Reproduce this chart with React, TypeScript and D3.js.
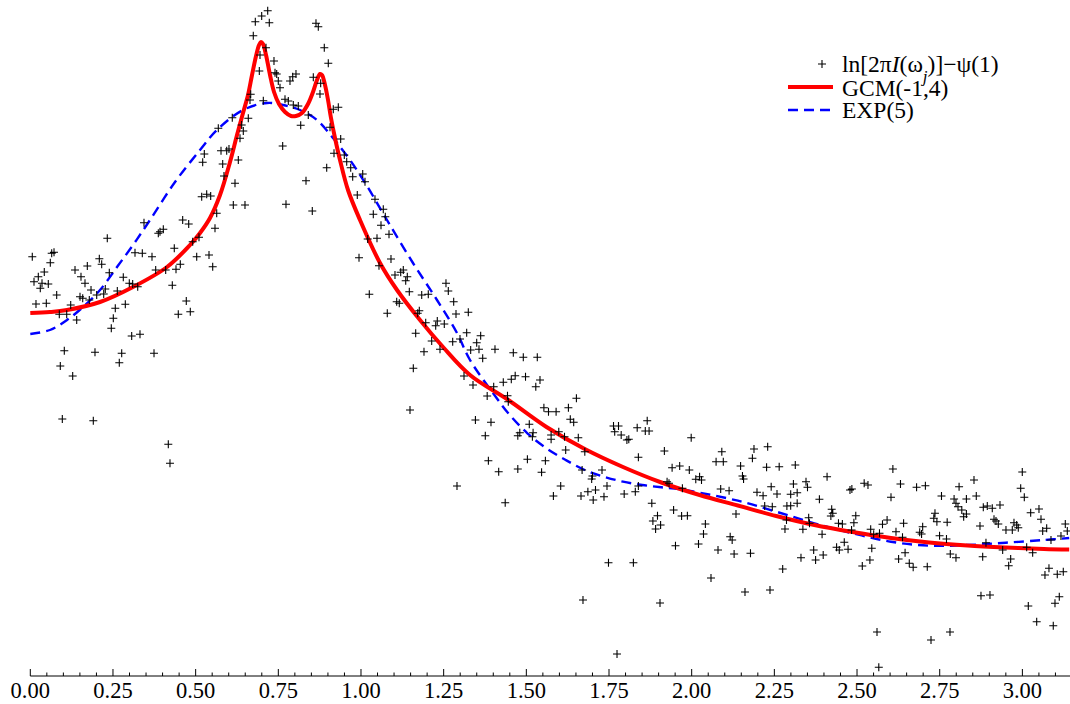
import React from "react";
import * as d3 from "d3";

// Fourier frequencies (omega_j) and log-periodogram values ln[2πI(ω_j)]−ψ(1)
const pointFreq: number[] = [
  0.006,0.0647,0.0717,0.0605,0.0423,0.0242,0.0112,0.0354,0.0544,0.0302,0.0798,0.0172,0.0484,0.1222,0.1101,0.0877,0.1403,0.1028,0.0907,0.1282,0.0968,0.1905,
  0.2328,0.1352,0.1533,0.1724,0.2087,0.2159,0.1654,0.1836,0.1503,0.1585,0.1784,0.2008,0.222,0.2268,0.2389,0.2631,0.2812,0.2994,0.3096,0.3248,0.257,0.2873,0.251,0.2449,0.3066,0.3317,0.1956,0.2764,0.2691,0.3741,
  0.3166,0.3387,0.368,0.3438,0.3871,0.4022,0.3922,0.4608,0.479,0.4354,0.3792,0.4094,0.4406,0.4536,0.4294,0.4717,0.4475,0.4838,0.5032,0.5404,0.5516,0.5585,0.4911,0.5101,0.4173,0.4224,
  0.7179,0.6997,0.6804,0.7227,0.6743,0.8639,0.8709,0.889,0.9011,0.7127,0.6946,0.7369,0.6925,0.74,0.7451,0.7499,0.7551,0.7853,0.7935,0.8034,0.8558,0.8781,0.876,0.7046,0.6665,0.6643,0.7702,0.7802,0.7953,0.8104,0.8406,0.9162,0.9314,
  0.6592,0.6392,0.6441,0.6341,0.6108,0.5685,0.5262,0.5213,0.5767,0.5939,0.6008,0.5818,0.629,0.5857,0.619,0.6139,0.6492,0.5183,0.5334,0.5455,0.5637,
  0.8177,0.9063,0.7632,0.9386,0.9184,0.9495,0.9568,0.9689,0.8963,0.9749,1.0052,1.0121,0.8337,0.9888,1.0423,0.7732,0.8527,1.0674,1.0372,1.0735,1.0605,1.0847,1.0484,1.0203,0.994,1.0907,1.0544,1.1279,1.1201,1.1028,1.14,1.1352,
  1.257,1.264,1.1461,1.1836,1.2035,1.0251,1.2803,1.108,1.1158,1.2873,1.3245,1.0795,1.1763,1.1715,1.1957,1.2307,1.2259,1.2519,1.3196,1.3619,1.1654,1.2138,1.2773,1.2994,1.3499,1.2389,1.1905,1.3317,1.3568,1.4052,1.368,1.4606,1.4908,1.5331,1.1582,1.3115,
  1.4663,1.4975,1.5413,1.4545,1.4303,1.5286,1.3387,1.4013,1.3816,1.443,1.4454,1.6514,1.5531,1.567,1.59,1.6272,1.6329,1.6432,1.346,1.3931,1.5089,1.5204,1.4802,1.4742,1.3759,1.5183,1.5749,1.5981,1.5749,1.6154,1.6571,1.619,1.6768,
  1.7636,1.7787,1.7672,1.7868,1.8041,1.8098,1.8352,1.8655,1.8597,1.8712,1.9985,1.9174,1.8388,1.3852,1.5032,1.5576,1.4164,1.4742,1.5461,1.6686,1.7,1.6976,1.7288,1.9408,1.9637,1.9928,2.0239,2.0124,2.0297,
  2.0911,2.0738,2.0956,2.1884,2.2298,2.1836,2.1479,2.2265,2.2646,2.3133,2.1536,2.1569,1.9256,1.6039,1.5818,1.6653,1.6861,1.7091,1.7348,1.7022,1.7439,1.7959,1.8295,1.8388,1.9314,1.9719,2.0877,2.1131,2.1975,2.2159,2.2404,2.258,2.2994,2.319,2.3076,2.3457,2.3502,2.3862,2.4094,
  2.4787,2.4844,2.5216,2.5331,2.6027,2.6314,2.6084,2.6801,2.7067,2.7554,2.8086,2.8537,2.8606,2.8307,2.7935,2.7992,2.8053,2.8168,2.8225,2.8307,2.7705,2.7496,2.7357,2.7321,2.7415,2.7726,2.6985,2.6895,2.6952,2.6178,2.5909,2.577,2.6408,2.6375,2.6453,2.6257,2.658,2.6698,2.7124,2.782,2.7992,
  2.5413,2.5504,2.5679,2.5446,2.5389,2.5159,2.4905,2.4962,2.4835,2.4614,2.4382,2.4463,2.4729,2.4234,2.4209,2.4267,2.4439,2.4557,2.3943,2.3538,2.3562,2.3363,2.3689,2.3747,2.3977,2.3305,2.2879,2.2994,2.319,2.2208,2.2437,2.2867,2.2821,
  2.134,2.1164,2.1224,2.0414,2.0357,2.0206,2.0796,2.1283,2.1778,1.951,1.8794,1.8966,1.8827,1.8909,1.906,1.9453,1.9695,1.987,1.4361,1.7484,1.8237,2.2752,
  2.9997,2.9949,3.0058,2.8818,2.8939,2.909,2.9323,3.0251,3.0502,3.0563,2.9142,2.9202,2.9272,2.9746,2.9828,2.9876,2.9504,2.9695,3.1298,3.1358,3.0735,3.0614,3.1167,3.0865,2.8899,2.9404,3.013,3.0311,2.8718,2.88,2.9646,2.9586,3.0804,3.0683,3.1055,3.1237,2.8748,2.902,3.1116,3.0986,3.0179,3.0433,3.0934,
  1.1482,1.2903,1.6713,1.7742,1.9042,2.0584,2.1612,2.2368,2.5604,2.5658,2.7237,2.7811,
];

const pointValue: number[] = [
  2.033,2.067,2.077,1.973,1.88,1.833,1.783,1.767,1.76,1.717,1.65,1.56,1.567,1.55,1.457,1.457,1.4,1.093,0.94,0.84,0.41,0.393,
  2.217,1.9,1.833,1.94,2.013,1.957,1.767,1.7,1.633,1.617,1.6,1.65,1.66,1.71,1.873,1.69,1.827,1.767,1.76,1.733,1.517,1.557,1.417,1.317,1.24,1.257,1.077,1.067,0.973,1.067,
  2.073,2.067,2.033,2.373,2.267,2.307,2.283,2.4,2.36,2.117,1.9,1.9,1.907,1.957,1.747,1.59,1.457,1.483,2.033,2.05,1.933,2.317,2.183,2.227,0.157,-0.033,
  4.493,4.44,4.383,4.373,4.243,4.367,4.333,4.123,3.967,4.123,4.05,3.99,3.89,3.873,3.86,3.79,3.723,3.79,3.833,3.86,3.827,3.767,3.66,3.593,3.657,3.6,3.607,3.59,3.55,3.54,3.45,3.507,3.527,
  3.417,3.35,3.29,3.217,3.423,3.317,3.06,2.977,3.093,3.093,3.11,2.96,3.0,2.84,2.767,2.55,2.55,2.633,2.657,2.64,2.467,
  3.347,3.327,3.14,3.21,3.067,3.05,2.983,2.923,2.923,2.833,2.86,2.783,2.793,2.65,2.607,2.557,2.49,2.507,2.457,2.433,2.347,2.257,2.217,2.21,2.023,2.01,1.943,1.9,1.877,1.85,1.833,1.793,
  1.767,1.69,1.683,1.65,1.657,1.657,1.583,1.583,1.567,1.46,1.477,1.467,1.493,1.467,1.373,1.39,1.343,1.36,1.273,1.243,1.267,1.19,1.183,1.21,1.173,1.107,1.083,1.1,1.107,1.107,1.017,1.073,1.027,1.027,0.917,0.84,
  0.843,0.833,0.8,0.807,0.777,0.733,0.75,0.733,0.64,0.643,0.583,0.617,0.523,0.483,0.483,0.523,0.407,0.377,0.4,0.377,0.357,0.273,0.273,0.243,0.243,0.233,0.25,0.283,0.207,0.233,0.223,0.1,0.083,
  0.34,0.34,0.283,0.25,0.2,0.207,0.323,0.393,0.29,0.29,0.223,0.09,0.027,-0.007,0.007,-0.007,-0.117,-0.09,-0.123,-0.1,-0.16,-0.19,-0.1,-0.077,-0.06,-0.1,-0.167,-0.193,-0.2,
  0.083,-0.017,-0.017,0.11,0.133,0.017,-0.06,-0.073,-0.067,-0.05,-0.16,-0.19,-0.217,-0.26,-0.36,-0.36,-0.317,-0.3,-0.367,-0.4,-0.26,-0.34,-0.317,-0.26,-0.233,-0.283,-0.29,-0.307,-0.323,-0.357,-0.267,-0.34,-0.343,-0.327,-0.24,-0.217,-0.273,-0.393,-0.167,
  -0.3,-0.29,-0.233,-0.25,-0.373,-0.24,-0.09,-0.273,-0.257,-0.36,-0.267,-0.2,-0.36,-0.39,-0.39,-0.433,-0.467,-0.5,-0.567,-0.54,-0.79,-0.757,-0.533,-0.583,-0.617,-0.623,-0.667,-0.723,-0.74,-0.717,-0.6,-0.643,-0.633,-0.773,-0.927,-0.99,-1.033,-1.073,-1.067,-0.94,-0.977,
  -0.693,-0.743,-0.733,-0.883,-1.0,-1.06,-0.627,-0.557,-0.7,-0.823,-0.873,-0.9,-0.893,-0.493,-0.56,-0.533,-0.633,-0.64,-0.743,-0.577,-0.633,-0.693,-0.9,-1.0,-0.95,-0.977,-0.46,-0.457,-0.433,-0.46,-0.467,-0.6,-0.69,
  -0.54,-0.767,-0.8,-0.64,-0.74,-0.84,-0.9,-0.94,-0.933,-0.857,-0.433,-0.557,-0.61,-0.69,-0.65,-0.5,-0.56,-0.557,-0.427,-1.027,-1.027,-1.09,
  -0.12,-0.283,-0.373,-0.473,-0.46,-0.483,-0.45,-0.527,-0.49,-0.593,-0.593,-0.61,-0.64,-0.627,-0.65,-0.677,-0.7,-0.7,-0.64,-0.71,-0.683,-0.71,-0.76,-0.8,-0.827,-0.9,-0.873,-0.927,-0.66,-0.967,-0.99,-1.057,-1.083,-1.15,-1.143,-1.117,-1.357,-1.35,-1.367,-1.433,-1.46,-1.617,-1.657,
  0.5,-0.26,-1.4,-1.94,-1.43,-1.18,-1.32,-1.3,-1.72,-2.073,-1.8,-1.72,
];

// GCM(-1,4) fitted log spectral density
const gcmFreq: number[] = [
  0,0.0596,0.111,0.2108,0.3106,0.4134,0.4829,0.5132,0.5434,0.5737,0.6039,0.6251,0.6432,0.6584,0.6705,0.6826,0.6917,0.6977,0.7037,0.7128,0.7249,0.737,0.7521,0.7703,0.7884,0.8035,0.8217,0.8398,0.8549,0.867,0.8761,0.8821,0.8912,0.9003,0.9093,0.9214,0.9365,0.9607,0.997,1.0575,1.1089,1.1784,1.248,1.3296,1.4454,1.5609,1.6767,1.7923,1.9084,2.0239,2.1397,2.2555,2.371,2.4868,2.6027,2.7182,2.834,2.9498,3.0653,3.1416,
];
const gcmValue: number[] = [
  1.47,1.48,1.5,1.58,1.73,1.93,2.15,2.27,2.42,2.65,2.98,3.25,3.47,3.65,3.85,4.04,4.15,4.18,4.16,4.05,3.85,3.68,3.56,3.48,3.44,3.44,3.47,3.56,3.68,3.8,3.86,3.85,3.75,3.6,3.42,3.22,3.0,2.7,2.4,1.97,1.7,1.4,1.13,0.85,0.6,0.33,0.11,-0.07,-0.225,-0.35,-0.455,-0.56,-0.65,-0.72,-0.78,-0.825,-0.855,-0.875,-0.89,-0.895,
];

// EXP(5) fitted log spectral density
const expFreq: number[] = [
  0,0.0596,0.111,0.1594,0.2108,0.2622,0.3106,0.362,0.4376,0.5132,0.5646,0.6432,0.7158,0.7641,0.8155,0.8669,0.9153,0.9667,1.0181,1.0786,1.1572,1.2298,1.2903,1.3296,1.3991,1.4454,1.5032,1.5609,1.619,1.6767,1.7348,1.7923,1.8503,1.9084,1.9661,2.0239,2.1397,2.2555,2.371,2.4868,2.6027,2.7182,2.834,2.9498,3.0653,3.1416,
];
const expValue: number[] = [
  1.26,1.3,1.4,1.53,1.7,1.93,2.15,2.4,2.78,3.1,3.3,3.5,3.57,3.55,3.5,3.4,3.22,3.0,2.74,2.4,1.97,1.6,1.27,1.0,0.67,0.467,0.267,0.117,0.0,-0.1,-0.167,-0.217,-0.25,-0.273,-0.293,-0.327,-0.407,-0.517,-0.633,-0.733,-0.817,-0.857,-0.85,-0.827,-0.8,-0.78,
];

const majorTicks: number[] = [0, 0.25, 0.5, 0.75, 1, 1.25, 1.5, 1.75, 2, 2.25, 2.5, 2.75, 3];
const legendLabels: string[] = ["GCM(-1,4)", "EXP(5)"];

const W = 1070;
const H = 704;
const FONT = "'Liberation Serif', 'Times New Roman', serif";

export default function App() {
  const x = d3.scaleLinear().domain([0, Math.PI]).range([30.3, 1069.2]);
  const y = d3.scaleLinear().domain([-2.1, 4.6]).range([670, 0]);
  const axisY = 676;

  const line = d3
    .line<[number, number]>()
    .x((d) => x(d[0]))
    .y((d) => y(d[1]))
    .curve(d3.curveCatmullRom.alpha(0.5));

  const gcmPath = line(gcmFreq.map((f, i) => [f, gcmValue[i]]) as [number, number][]) || "";
  const expPath = line(expFreq.map((f, i) => [f, expValue[i]]) as [number, number][]) || "";

  const minorTicks = d3.range(0, 63).map((i) => i * 0.05).filter((t) => t <= Math.PI && Math.abs(t * 4 - Math.round(t * 4)) > 1e-6);
  const fmt = d3.format(".2f");

  const plus = (cx: number, cy: number, s: number) => `M${cx - s},${cy}H${cx + s}M${cx},${cy - s}V${cy + s}`;
  const pointsPath = pointFreq.map((f, i) => plus(x(f), y(pointValue[i]), 4)).join("");

  return (
    <svg width={W} height={H} style={{ position: "absolute", left: 0, top: 0, background: "#fff" }} fontFamily={FONT}>
      <rect x={0} y={0} width={W} height={H} fill="#fff" />
      <path d={expPath} fill="none" stroke="#0000ff" strokeWidth={2.4} strokeDasharray="10,6" />
      <path d={gcmPath} fill="none" stroke="#ff0000" strokeWidth={4} />
      <path d={pointsPath} fill="none" stroke="#000" strokeWidth={1.1} />

      {/* x axis */}
      <line x1={x(0)} x2={W} y1={axisY} y2={axisY} stroke="#000" strokeWidth={1} />
      {majorTicks.map((t) => (
        <g key={"M" + t}>
          <line x1={x(t)} x2={x(t)} y1={axisY} y2={axisY - 7} stroke="#000" strokeWidth={1} />
          <text x={x(t)} y={698} textAnchor="middle" fontSize={22.5} fill="#000">
            {fmt(t)}
          </text>
        </g>
      ))}
      {minorTicks.map((t) => (
        <line key={"m" + t} x1={x(t)} x2={x(t)} y1={axisY} y2={axisY - 3.5} stroke="#000" strokeWidth={1} />
      ))}

      {/* legend */}
      <path d={plus(822, 64, 4)} fill="none" stroke="#000" strokeWidth={1.1} />
      <text x={842} y={72} fontSize={23.5} fill="#000">
        ln[2π<tspan fontStyle="italic">I</tspan>(ω<tspan fontStyle="italic" fontSize={17} dy={10}>j</tspan><tspan dy={-10}>)]−ψ(1)</tspan>
      </text>
      <line x1={788} x2={833} y1={87} y2={87} stroke="#ff0000" strokeWidth={4} />
      <text x={842} y={96} fontSize={23.5} fill="#000">{legendLabels[0]}</text>
      <line x1={788} x2={833} y1={110} y2={110} stroke="#0000ff" strokeWidth={2.4} strokeDasharray="10,6" />
      <text x={842} y={118} fontSize={23.5} fill="#000">{legendLabels[1]}</text>
    </svg>
  );
}
